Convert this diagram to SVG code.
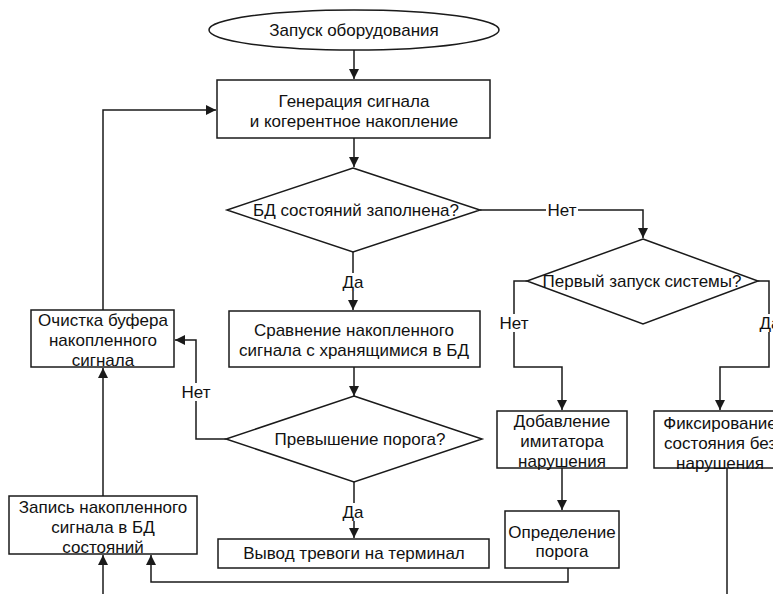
<svg xmlns="http://www.w3.org/2000/svg" width="773" height="594" viewBox="0 0 773 594">
<style>
.s{fill:#fff;stroke:#1a1a1a;stroke-width:1.5}
.t{font-family:"Liberation Sans",Arial,sans-serif;font-size:17px;fill:#111;text-anchor:middle;dominant-baseline:central}
.c{fill:none;stroke:#1a1a1a;stroke-width:1.5}
.lb{fill:#fff}
</style>
<defs>
<marker id="a" viewBox="0 0 10 10" refX="10" refY="5" markerWidth="10" markerHeight="10" markerUnits="userSpaceOnUse" orient="auto">
<path d="M0,0 L10,5 L0,10 z" fill="#1a1a1a"/>
</marker>
</defs>
<rect width="773" height="594" fill="#fff"/>
<g id="connectors">
<path class="c" d="M354,50 V79" marker-end="url(#a)"/>
<path class="c" d="M354,138 V167" marker-end="url(#a)"/>
<path class="c" d="M353,252 V310" marker-end="url(#a)"/>
<path class="c" d="M480,210 H643 V238" marker-end="url(#a)"/>
<path class="c" d="M527,281 H514 V367 H562 V410" marker-end="url(#a)"/>
<path class="c" d="M758,281 H769 V367 H720 V410" marker-end="url(#a)"/>
<path class="c" d="M354,367 V396" marker-end="url(#a)"/>
<path class="c" d="M226,439 H196 V340 H175" marker-end="url(#a)"/>
<path class="c" d="M354,482 V538" marker-end="url(#a)"/>
<path class="c" d="M103,310 V110 H216" marker-end="url(#a)"/>
<path class="c" d="M103,496 V368" marker-end="url(#a)"/>
<path class="c" d="M103,594 V555" marker-end="url(#a)"/>
<path class="c" d="M568,568 V582 H151 V555" marker-end="url(#a)"/>
<path class="c" d="M562,468 V510" marker-end="url(#a)"/>
<path class="c" d="M727,468 V594"/>
<rect class="lb" x="546" y="201" width="32" height="18"/>
<text class="t" x="562" y="210">Нет</text>
<rect class="lb" x="498" y="314" width="32" height="18"/>
<text class="t" x="514" y="323">Нет</text>
<rect class="lb" x="758" y="314" width="24" height="18"/>
<text class="t" x="770" y="323">Да</text>
<rect class="lb" x="342" y="273" width="23" height="18"/>
<text class="t" x="353" y="282">Да</text>
<rect class="lb" x="180" y="383" width="32" height="18"/>
<text class="t" x="196" y="392">Нет</text>
<rect class="lb" x="342" y="503" width="23" height="18"/>
<text class="t" x="353" y="512">Да</text>
</g>
<g id="start">
<ellipse class="s" cx="354" cy="30" rx="145" ry="20"/>
<text class="t" x="354" y="30">Запуск оборудования</text>
</g>
<g id="generate">
<rect class="s" x="217" y="80" width="273" height="58"/>
<text class="t" x="354" y="101">Генерация сигнала</text>
<text class="t" x="354" y="121">и когерентное накопление</text>
</g>
<g id="db-full">
<polygon class="s" points="353,168 480,210 353,252 227,210"/>
<text class="t" x="356" y="210">БД состояний заполнена?</text>
</g>
<g id="first-run">
<polygon class="s" points="643,239 758,281 643,324 527,281"/>
<text class="t" x="642" y="281">Первый запуск системы?</text>
</g>
<g id="compare">
<rect class="s" x="229" y="311" width="251" height="56"/>
<text class="t" x="354" y="330">Сравнение накопленного</text>
<text class="t" x="354" y="350">сигнала с хранящимися в БД</text>
</g>
<g id="threshold-check">
<polygon class="s" points="354,396 482,439 354,482 226,439"/>
<text class="t" x="360" y="439">Превышение порога?</text>
</g>
<g id="alarm">
<rect class="s" x="218" y="539" width="271" height="29"/>
<text class="t" x="354" y="553">Вывод тревоги на терминал</text>
</g>
<g id="clear-buffer">
<rect class="s" x="31" y="310" width="143" height="57"/>
<text class="t" x="103" y="320">Очистка буфера</text>
<text class="t" x="103" y="340">накопленного</text>
<text class="t" x="103" y="360">сигнала</text>
</g>
<g id="write-db">
<rect class="s" x="9" y="496" width="188" height="58"/>
<text class="t" x="103" y="507">Запись накопленного</text>
<text class="t" x="103" y="527">сигнала в БД</text>
<text class="t" x="103" y="547">состояний</text>
</g>
<g id="add-imitator">
<rect class="s" x="497" y="411" width="130" height="57"/>
<text class="t" x="562" y="421">Добавление</text>
<text class="t" x="562" y="441">имитатора</text>
<text class="t" x="562" y="461">нарушения</text>
</g>
<g id="define-threshold">
<rect class="s" x="505" y="511" width="114" height="57"/>
<text class="t" x="562" y="532">Определение</text>
<text class="t" x="562" y="551">порога</text>
</g>
<g id="fix-state">
<rect class="s" x="654" y="411" width="132" height="57"/>
<text class="t" x="720" y="423">Фиксирование</text>
<text class="t" x="720" y="443">состояния без</text>
<text class="t" x="720" y="463">нарушения</text>
</g>
</svg>
